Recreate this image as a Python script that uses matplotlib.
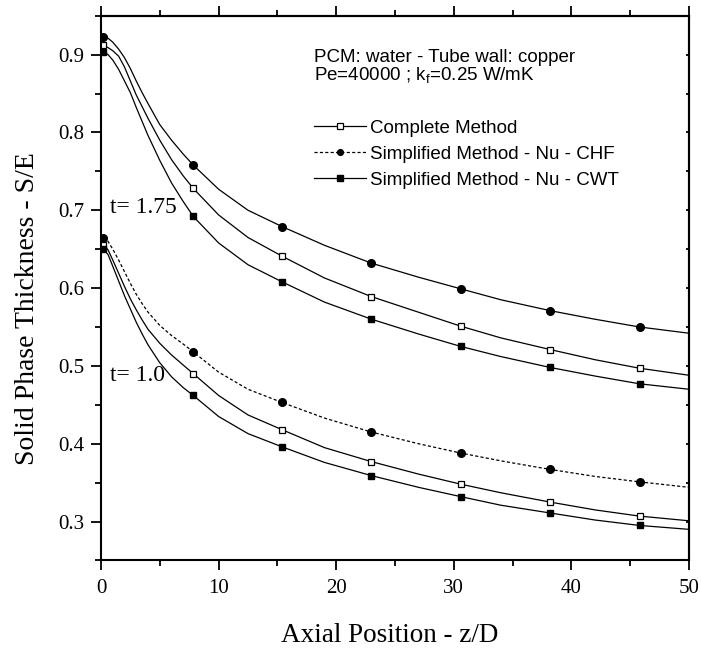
import numpy as np
import matplotlib
matplotlib.use('Agg')
import matplotlib.pyplot as plt
from matplotlib.ticker import MultipleLocator

plt.rcParams['font.family'] = ['Liberation Serif', 'DejaVu Serif']
plt.rcParams['mathtext.fontset'] = 'custom'
plt.rcParams['mathtext.rm'] = 'Liberation Sans'

# axial position z/D
z = [0.2, 0.6, 1.0, 1.5, 2.0, 2.5, 3.0, 3.5, 4.0, 5.0, 6.0, 7.0, 7.85,
     10, 12.5, 15.4, 19, 23, 27, 30.6, 34, 38.2, 42, 45.8, 50]
# positions where the symbols are drawn
z_marks = [0.2, 7.85, 15.4, 23, 30.6, 38.2, 45.8]

# t = 1.75
s175_complete = [0.912, 0.909, 0.905, 0.898, 0.884, 0.866, 0.848, 0.833, 0.818, 0.790, 0.765, 0.744, 0.728,
                 0.694, 0.665, 0.641, 0.613, 0.589, 0.569, 0.551, 0.536, 0.521, 0.508, 0.497, 0.488]
s175_chf = [0.923, 0.921, 0.916, 0.907, 0.896, 0.882, 0.866, 0.851, 0.837, 0.810, 0.790, 0.772, 0.758,
            0.727, 0.700, 0.679, 0.655, 0.632, 0.614, 0.599, 0.585, 0.571, 0.560, 0.550, 0.542]
s175_cwt = [0.904, 0.900, 0.893, 0.881, 0.866, 0.851, 0.832, 0.814, 0.796, 0.764, 0.735, 0.711, 0.692,
            0.658, 0.630, 0.608, 0.582, 0.560, 0.541, 0.525, 0.512, 0.498, 0.487, 0.477, 0.470]

# t = 1.0
s10_complete = [0.656, 0.649, 0.636, 0.619, 0.602, 0.586, 0.572, 0.559, 0.547, 0.529, 0.514, 0.501, 0.490,
                0.462, 0.437, 0.418, 0.395, 0.377, 0.361, 0.348, 0.337, 0.325, 0.315, 0.307, 0.301]
s10_chf = [0.665, 0.660, 0.650, 0.636, 0.621, 0.606, 0.592, 0.580, 0.569, 0.552, 0.539, 0.528, 0.518,
           0.492, 0.470, 0.453, 0.433, 0.415, 0.400, 0.388, 0.378, 0.367, 0.358, 0.351, 0.344]
s10_cwt = [0.650, 0.643, 0.628, 0.609, 0.590, 0.573, 0.556, 0.541, 0.527, 0.504, 0.486, 0.472, 0.462,
           0.435, 0.413, 0.396, 0.376, 0.359, 0.344, 0.332, 0.321, 0.311, 0.302, 0.295, 0.290]

labels = ['Complete Method', 'Simplified Method - Nu - CHF', 'Simplified Method - Nu - CWT']

marks = list(np.where(np.isin(z, z_marks))[0])
dotted = (0, (2.5, 1.8))

fig = plt.figure(figsize=(7.01, 6.49), dpi=100)
ax = fig.add_axes([0.1441, 0.1364, 0.8388, 0.8394])

style_complete = dict(color='black', lw=0.9, marker='s', ms=5, mfc='white', mec='black', mew=0.9, markevery=marks)
style_chf = dict(color='black', lw=0.9, marker='o', ms=5.5, mfc='black', mec='black', markevery=marks)
style_cwt = dict(color='black', lw=0.9, marker='s', ms=5, mfc='black', mec='black', markevery=marks)

# upper family
ax.plot(z, s175_chf, **style_chf)
ax.plot(z, s175_complete, **style_complete)
ax.plot(z, s175_cwt, **style_cwt)

# lower family
ax.plot(z, s10_chf, ls=dotted, label=labels[1], **style_chf)
ax.plot(z, s10_complete, label=labels[0], **style_complete)
ax.plot(z, s10_cwt, label=labels[2], **style_cwt)

ax.set_xlim(0, 50)
ax.set_ylim(0.25, 0.95)

ax.xaxis.set_major_locator(MultipleLocator(10))
ax.xaxis.set_minor_locator(MultipleLocator(5))
ax.yaxis.set_major_locator(MultipleLocator(0.1))
ax.yaxis.set_minor_locator(MultipleLocator(0.05))
ax.yaxis.set_major_formatter(plt.FuncFormatter(lambda v, p: f'{v:.1f}'))

for sp in ax.spines.values():
    sp.set_linewidth(1.5)
ax.tick_params(which='major', direction='out', length=7, width=1.3, labelsize=15)
ax.tick_params(which='minor', direction='out', length=4, width=1.3)
ax.tick_params(axis='x', pad=6)
ax.tick_params(axis='y', pad=5)

# top axis: outward ticks, no labels
top = ax.secondary_xaxis('top')
top.xaxis.set_major_locator(MultipleLocator(10))
top.xaxis.set_minor_locator(MultipleLocator(5))
top.tick_params(which='major', direction='out', length=7, width=1.3, labeltop=False)
top.tick_params(which='minor', direction='out', length=4, width=1.3)
top.spines['top'].set_linewidth(1.5)

# right axis: short inward ticks
right = ax.secondary_yaxis('right')
right.yaxis.set_major_locator(MultipleLocator(0.05))
right.yaxis.set_minor_locator(plt.NullLocator())
right.tick_params(which='major', direction='in', length=2.5, width=1.3, labelright=False)
right.spines['right'].set_linewidth(1.5)

ax.set_xlabel('Axial Position - z/D', fontsize=19.5)
ax.set_ylabel('Solid Phase Thickness - S/E', fontsize=20)
ax.xaxis.set_label_coords(0.4915, -0.115)
ax.yaxis.set_label_coords(-0.104, 0.462)

ax.text(0.75, 0.703, 't= 1.75', fontsize=17, ha='left', va='center')
ax.text(0.75, 0.488, 't= 1.0', fontsize=17, ha='left', va='center')

sans = ['Liberation Sans', 'DejaVu Sans']
ax.text(0.362, 0.9156, 'PCM: water - Tube wall: copper', transform=ax.transAxes,
        fontsize=13.5, family=sans, ha='left', va='baseline')
ax.text(0.362, 0.881, 'Pe=40000 ; k$_{\\rm f}$=0.25 W/mK', transform=ax.transAxes,
        fontsize=13.5, family=sans, ha='left', va='baseline')

handles, lbls = ax.get_legend_handles_labels()
order = [1, 0, 2]
leg = ax.legend([handles[i] for i in order], [lbls[i] for i in order],
                loc='upper left', bbox_to_anchor=(0.362, 0.809), frameon=False,
                handlelength=2.8, handletextpad=0.2, labelspacing=0.47,
                markerscale=0.75, borderaxespad=0, borderpad=0,
                prop={'family': 'Liberation Sans', 'size': 13.5})

fig.savefig('out.png', dpi=100)
